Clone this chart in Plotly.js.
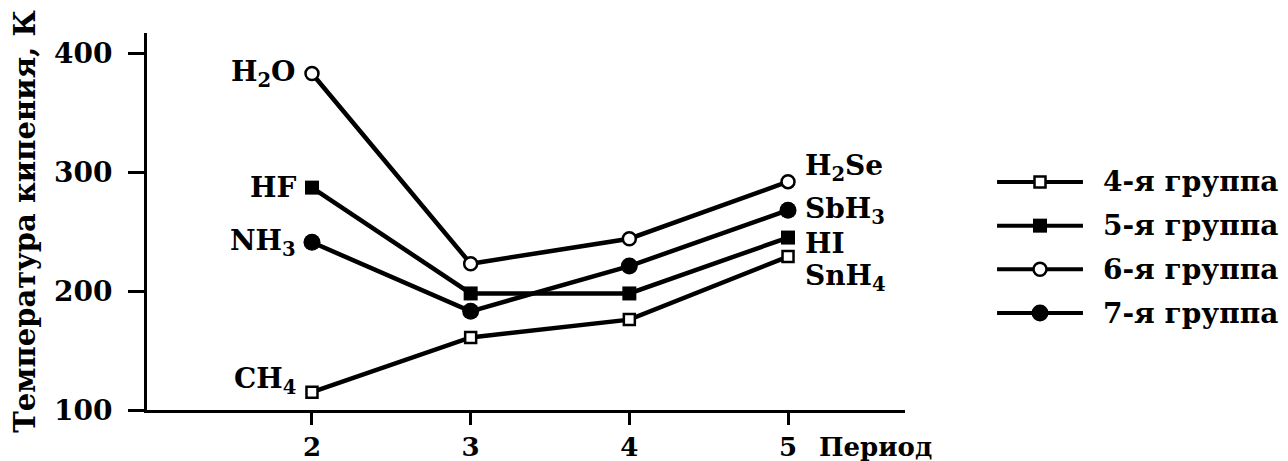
<!DOCTYPE html>
<html>
<head>
<meta charset="utf-8">
<script src="https://cdn.plot.ly/plotly-3.0.1.min.js"></script>
<style>html,body{margin:0;padding:0;background:#fff;}#chart{width:1288px;height:461px;}</style>
</head>
<body>
<div id="chart"></div>
<script>
// ---- data ----
const periods = [2, 3, 4, 5];
const periodTicks = ['2', '3', '4', '5'];
const group4 = [115, 161, 176, 229];   // CH4 ... SnH4
const group5 = [287, 198, 198, 245];   // HF ... HI
const group6 = [383, 223, 244, 292];   // H2O ... H2Se
const group7 = [241, 183, 221, 268];   // NH3 ... SbH3
const groupNames = ['4-я группа', '5-я группа', '6-я группа', '7-я группа'];
const leftLabels = ['CH<sub>4</sub>', 'HF', 'H<sub>2</sub>O', 'NH<sub>3</sub>'];
const rightLabels = ['SnH<sub>4</sub>', 'HI', 'H<sub>2</sub>Se', 'SbH<sub>3</sub>'];
const yTicks = [100, 200, 300, 400];
const yTitle = 'Температура кипения, К';
const xTitle = 'Период';

// ---- styles ----
const FONT = 'DejaVu Serif, Liberation Serif, serif';
const series = [group4, group5, group6, group7];
const markerStyles = [
  {symbol: 'square', color: '#fff', size: 11, lw: 2.5},
  {symbol: 'square', color: '#000', size: 14, lw: 0},
  {symbol: 'circle', color: '#fff', size: 13, lw: 2.5},
  {symbol: 'circle', color: '#000', size: 17, lw: 0}
];
const leftShift = [12, 0, 0, 0];
const rightShift = [-21, -6, 14, 0];

const traces = [];
series.forEach((vals, i) => {
  const m = markerStyles[i];
  traces.push({
    x: periods, y: vals, type: 'scatter', mode: 'lines+markers',
    name: groupNames[i], showlegend: false, cliponaxis: false,
    line: {color: '#000', width: 4.5},
    marker: {symbol: m.symbol, color: m.color, size: m.size, line: {color: '#000', width: m.lw}}
  });
});

// custom legend on a hidden overlay axis
series.forEach((vals, i) => {
  const m = markerStyles[i];
  traces.push({
    x: [0, 1], y: [i, i], xaxis: 'x2', yaxis: 'y2', type: 'scatter', mode: 'lines',
    showlegend: false, hoverinfo: 'skip', line: {color: '#000', width: 4}
  });
  traces.push({
    x: [0.5], y: [i], xaxis: 'x2', yaxis: 'y2', type: 'scatter', mode: 'markers',
    showlegend: false, hoverinfo: 'skip',
    marker: {symbol: m.symbol, color: m.color, size: m.size, line: {color: '#000', width: m.lw}}
  });
});

const annotations = [];
series.forEach((vals, i) => {
  annotations.push({
    x: periods[0], y: vals[0], xref: 'x', yref: 'y', text: leftLabels[i],
    showarrow: false, xanchor: 'right', yanchor: 'middle', xshift: -14, yshift: leftShift[i],
    font: {family: FONT, size: 28, color: '#000', weight: 'bold'}
  });
  annotations.push({
    x: periods[periods.length - 1], y: vals[vals.length - 1], xref: 'x', yref: 'y', text: rightLabels[i],
    showarrow: false, xanchor: 'left', yanchor: 'middle', xshift: 15, yshift: rightShift[i],
    font: {family: FONT, size: 28, color: '#000', weight: 'bold'}
  });
  annotations.push({
    x: 1, y: i, xref: 'x2', yref: 'y2', text: groupNames[i],
    showarrow: false, xanchor: 'left', yanchor: 'middle', xshift: 18,
    font: {family: FONT, size: 28, color: '#000', weight: 'bold'}
  });
});
annotations.push({
  x: 0.587, y: -0.098, xref: 'paper', yref: 'paper', text: xTitle,
  showarrow: false, xanchor: 'left', yanchor: 'middle',
  font: {family: FONT, size: 26, color: '#000', weight: 'bold'}
});

const layout = {
  width: 1288, height: 461,
  margin: {l: 147, r: 0, t: 33, b: 51},
  paper_bgcolor: '#fff', plot_bgcolor: '#fff',
  showlegend: false,
  font: {family: FONT, color: '#000'},
  xaxis: {
    domain: [0, 0.6643], range: [0.9603, 5.737],
    tickmode: 'array', tickvals: periods, ticktext: periodTicks,
    showgrid: false, zeroline: false, showline: true, linecolor: '#000', linewidth: 3,
    ticks: 'outside', ticklen: 12, tickwidth: 3, tickcolor: '#000', ticklabelstandoff: 0,
    tickfont: {family: FONT, size: 26, color: '#000', weight: 'bold'}
  },
  yaxis: {
    range: [100, 417],
    tickmode: 'array', tickvals: yTicks,
    showgrid: false, zeroline: false, showline: true, linecolor: '#000', linewidth: 3,
    ticks: 'outside', ticklen: 16, tickwidth: 3, tickcolor: '#000', ticklabelstandoff: 10,
    tickfont: {family: FONT, size: 28, color: '#000', weight: 'bold'},
    title: {text: yTitle, standoff: 10, font: {family: FONT, size: 29, color: '#000', weight: 'bold'}}
  },
  xaxis2: {domain: [0.745, 0.8203], range: [0, 1], anchor: 'y2', visible: false, fixedrange: true},
  yaxis2: {domain: [0, 1], range: [5.22, -3.41], anchor: 'x2', visible: false, fixedrange: true},
  annotations: annotations
};

Plotly.newPlot('chart', traces, layout, {staticPlot: true, displayModeBar: false});
</script>
</body>
</html>
